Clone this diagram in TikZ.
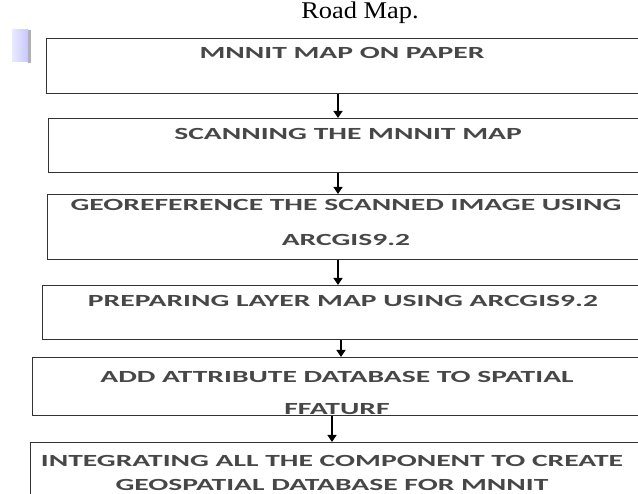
\documentclass[tikz,border=0pt]{standalone}
\usepackage{fontspec}
\setmainfont{Liberation Serif}
\newfontfamily\titlefont[FakeStretch=1.1]{Liberation Serif}
\newfontfamily\boxfont[FakeStretch=1.74]{Carlito}
\usetikzlibrary{arrows.meta}

\begin{document}
\begin{tikzpicture}[x=1pt, y=-1pt,
    box/.style={draw=black!80, line width=1.3pt, anchor=north west, inner sep=0pt},
    boxtext/.style={font=\boxfont\bfseries\fontsize{17}{#1}\selectfont, text=black!72,
        align=center, anchor=north, inner sep=0pt},
    boxtext/.default=35,
    flow/.style={-{Triangle[length=7pt,width=9pt]}, line width=1.3pt},
    ]
    \useasboundingbox (0,0) rectangle (638,494);
    \clip (0,0) rectangle (638,494);

    % caption and the tab at the left margin
    \node[font=\titlefont\fontsize{24}{26}\selectfont, anchor=base] (title) at (360,19) {Road Map.};
    \shade[left color=blue!8, right color=blue!22] (12,30) rectangle (28,62);
    \fill[black!30] (28,30) rectangle (31,63);

    % boxes
    \node[box, minimum width=610pt, minimum height=55pt] (mapbox)   at (46,38)  {};
    \node[box, minimum width=608pt, minimum height=54pt] (scanbox)  at (48,118) {};
    \node[box, minimum width=609pt, minimum height=65pt] (georefbox) at (47,194) {};
    \node[box, minimum width=614pt, minimum height=54pt] (layerbox) at (42,285) {};
    \node[box, minimum width=624pt, minimum height=58pt] (attribbox) at (32,357) {};
    \node[box, minimum width=626pt, minimum height=70pt] (integratebox) at (30,442) {};

    % texts
    \node[boxtext] (map) at (342,47) {MNNIT MAP ON PAPER};
    \node[boxtext] (scan) at (348,128) {SCANNING THE MNNIT MAP};
    \node[boxtext] (georef) at (346,199) {GEOREFERENCE THE SCANNED IMAGE USING\\ARCGIS9.2};
    \node[boxtext] (layer) at (343,295) {PREPARING LAYER MAP USING ARCGIS9.2};
    \node[boxtext=32] (attrib) at (337,371) {ADD ATTRIBUTE DATABASE TO SPATIAL\\FFATURF};
    \node[boxtext=24] (integrate) at (332,455) {INTEGRATING ALL THE COMPONENT TO CREATE\\GEOSPATIAL DATABASE FOR MNNIT};

    % arrows
    \draw[flow] ([xshift=-4pt]map |- mapbox.south) -- ([xshift=-4pt]map |- scanbox.north);
    \draw[flow] ([xshift=-10pt]scan |- scanbox.south) -- ([xshift=-10pt]scan |- georefbox.north);
    \draw[flow] ([xshift=-8pt]georef |- georefbox.south) -- ([xshift=-8pt]georef |- layerbox.north);
    \draw[flow] ([xshift=-2pt]layer |- layerbox.south) -- ([xshift=-2pt]layer |- attribbox.north);
    \draw[flow] ([xshift=-5pt]attrib |- attribbox.south) -- ([xshift=-5pt]attrib |- integratebox.north);
\end{tikzpicture}
\end{document}
